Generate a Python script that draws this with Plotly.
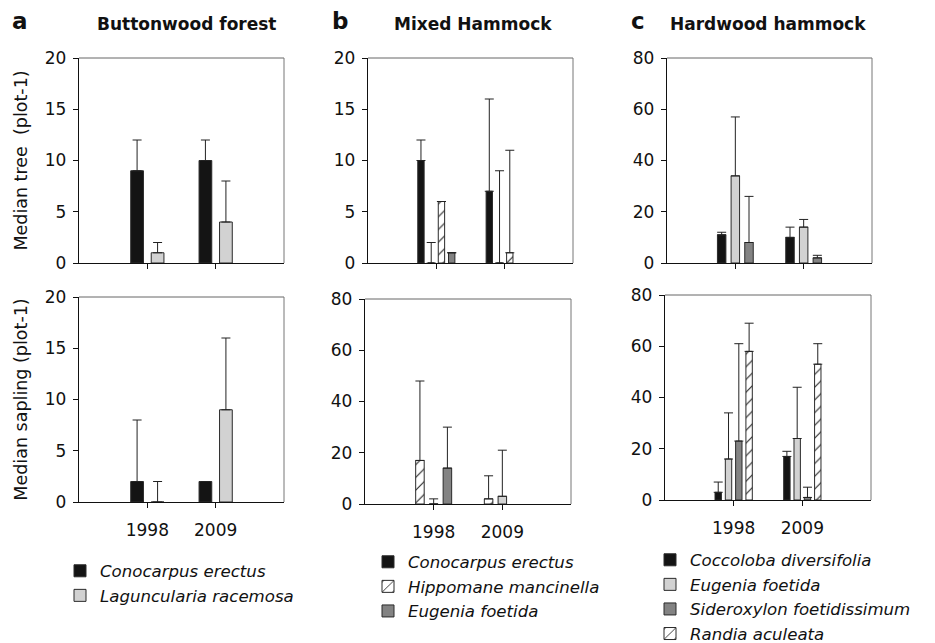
import plotly.graph_objects as go

W, H = 935, 700   # figure a little taller than the 643px window so legends never push margins
OFF = 8  # default page body margin shifts the figure by this many pixels
FONT = "DejaVu Sans"

years = ["1998", "2009"]

# ---- Panel a: Buttonwood forest ----
a_tree_cono = [9, 10]
a_tree_cono_up = [12, 12]
a_tree_lag = [1, 4]
a_tree_lag_up = [2, 8]
a_sap_cono = [2, 2]
a_sap_cono_up = [8, 2]
a_sap_lag = [0, 9]
a_sap_lag_up = [2, 16]

# ---- Panel b: Mixed Hammock ----
b_tree_cono = [10, 7]
b_tree_cono_up = [12, 16]
b_tree_lag = [0, 0]
b_tree_lag_up = [2, 9]
b_tree_hip = [6, 1]
b_tree_hip_up = [6, 11]
b_tree_eug = [1, None]
b_tree_eug_up = [1, None]
b_sap_hip = [17, 2]
b_sap_hip_up = [48, 11]
b_sap_lag = [0, 3]
b_sap_lag_up = [2, 21]
b_sap_eug = [14, None]
b_sap_eug_up = [30, None]

# ---- Panel c: Hardwood hammock ----
c_tree_coc = [11, 10]
c_tree_coc_up = [12, 14]
c_tree_eug = [34, 14]
c_tree_eug_up = [57, 17]
c_tree_sid = [8, 2]
c_tree_sid_up = [26, 3]
c_sap_coc = [3, 17]
c_sap_coc_up = [7, 19]
c_sap_eug = [16, 24]
c_sap_eug_up = [34, 44]
c_sap_sid = [23, 1]
c_sap_sid_up = [61, 5]
c_sap_ran = [58, 53]
c_sap_ran_up = [69, 61]


def fx(px):
    return (px - OFF) / W


def fy(py):
    return 1 - (py - OFF) / H


EDGE = "#2a2a2a"
STY = {
    "black": dict(color="#141414", line=dict(color=EDGE, width=1)),
    "light": dict(color="#d2d2d2", line=dict(color=EDGE, width=1)),
    "dark": dict(color="#838383", line=dict(color=EDGE, width=1)),
    "hatch": dict(color="white", line=dict(color=EDGE, width=1),
                  pattern=dict(shape="/", fgcolor="#222222", bgcolor="white",
                               size=9, solidity=0.12, fillmode="replace")),
}

fig = go.Figure()


def add(k, name, vals, ups, sty, legend, show):
    err = [None if v is None else u - v for u, v in zip(ups, vals)]
    sfx = "" if k == 1 else str(k)
    fig.add_trace(go.Bar(
        x=years, y=vals, name=name, xaxis="x" + sfx, yaxis="y" + sfx,
        marker=STY[sty], legend=legend, showlegend=show,
        error_y=dict(type="data", symmetric=False, array=err,
                     arrayminus=[0] * len(vals), color="#222222",
                     thickness=1, width=4.5),
        hoverinfo="skip",
    ))


# subplot 1: a tree, 2: b tree, 3: c tree, 4: a sapling, 5: b sapling, 6: c sapling
add(1, "Conocarpus erectus", a_tree_cono, a_tree_cono_up, "black", "legend", True)
add(1, "Laguncularia racemosa", a_tree_lag, a_tree_lag_up, "light", "legend", True)
add(4, "Conocarpus erectus", a_sap_cono, a_sap_cono_up, "black", "legend", False)
add(4, "Laguncularia racemosa", a_sap_lag, a_sap_lag_up, "light", "legend", False)

add(2, "Conocarpus erectus", b_tree_cono, b_tree_cono_up, "black", "legend2", True)
add(2, "Laguncularia racemosa", b_tree_lag, b_tree_lag_up, "light", "legend2", False)
add(2, "Hippomane mancinella", b_tree_hip, b_tree_hip_up, "hatch", "legend2", True)
add(2, "Eugenia foetida", b_tree_eug, b_tree_eug_up, "dark", "legend2", True)
add(5, "Hippomane mancinella", b_sap_hip, b_sap_hip_up, "hatch", "legend2", False)
add(5, "Laguncularia racemosa", b_sap_lag, b_sap_lag_up, "light", "legend2", False)
add(5, "Eugenia foetida", b_sap_eug, b_sap_eug_up, "dark", "legend2", False)

add(3, "Coccoloba diversifolia", c_tree_coc, c_tree_coc_up, "black", "legend3", True)
add(3, "Eugenia foetida", c_tree_eug, c_tree_eug_up, "light", "legend3", True)
add(3, "Sideroxylon foetidissimum", c_tree_sid, c_tree_sid_up, "dark", "legend3", True)
add(6, "Coccoloba diversifolia", c_sap_coc, c_sap_coc_up, "black", "legend3", False)
add(6, "Eugenia foetida", c_sap_eug, c_sap_eug_up, "light", "legend3", False)
add(6, "Sideroxylon foetidissimum", c_sap_sid, c_sap_sid_up, "dark", "legend3", False)
add(6, "Randia aculeata", c_sap_ran, c_sap_ran_up, "hatch", "legend3", True)

# on-screen pixel boxes (x0, x1, y0, y1) from top-left
BOX = {
    1: (79, 284, 58, 263),
    2: (368, 573, 58, 263),
    3: (667, 872, 58, 263),
    4: (79, 284, 297, 502),
    5: (365, 571, 299, 504),
    6: (665, 871, 295, 500),
}
YMAX = {1: 20, 2: 20, 3: 80, 4: 20, 5: 80, 6: 80}
YDT = {1: 5, 2: 5, 3: 20, 4: 5, 5: 20, 6: 20}

tickfont = dict(family=FONT, size=17, color="#111111")
layout = dict(
    width=W, height=H, margin=dict(l=0, r=0, t=0, b=0, autoexpand=False),
    paper_bgcolor="white", plot_bgcolor="white",
    barmode="group", bargap=0.4, bargroupgap=0.38,
    font=dict(family=FONT, color="#111111"),
    shapes=[], annotations=[],
)

for k, (x0, x1, y0, y1) in BOX.items():
    sfx = "" if k == 1 else str(k)
    layout["xaxis" + sfx] = dict(
        domain=[fx(x0), fx(x1)], anchor="y" + sfx, type="category",
        range=[-1, 2], showline=True, linecolor="#111111", linewidth=1.3,
        ticks="outside", ticklen=5, tickwidth=1, tickcolor="#111111",
        showticklabels=k >= 4, tickfont=tickfont, ticklabelstandoff=7,
        showgrid=False, zeroline=False, fixedrange=True, automargin=False,
    )
    layout["yaxis" + sfx] = dict(
        domain=[fy(y1), fy(y0)], anchor="x" + sfx,
        range=[0, YMAX[k]], dtick=YDT[k], tick0=0, showline=True,
        linecolor="#111111", linewidth=1.3, ticks="outside", ticklen=5,
        tickwidth=1, tickcolor="#111111", tickfont=tickfont,
        ticklabelstandoff=3, showgrid=False, zeroline=False, fixedrange=True,
        automargin=False,
    )
    xr = ("x" + sfx) + " domain"
    yr = ("y" + sfx) + " domain"
    layout["shapes"].append(dict(type="line", xref=xr, yref=yr, x0=0, x1=1, y0=1, y1=1,
                                 line=dict(color="#666666", width=1)))
    layout["shapes"].append(dict(type="line", xref=xr, yref=yr, x0=1, x1=1, y0=0, y1=1,
                                 line=dict(color="#777777", width=1)))

ytitle_font = dict(family=FONT, size=17.5, color="#111111")
layout["yaxis"]["title"] = dict(text="Median tree \u00a0(plot-1)", font=ytitle_font, standoff=12)
layout["yaxis4"]["title"] = dict(text="Median sapling (plot-1)", font=ytitle_font, standoff=12)

# panel letters and titles
for txt, xc in [("a", 19.5), ("b", 340), ("c", 637.5)]:
    layout["annotations"].append(dict(
        text="<b>%s</b>" % txt, x=fx(xc), y=fy(21), xref="paper", yref="paper",
        xanchor="center", yanchor="middle", showarrow=False,
        font=dict(family=FONT, size=23, color="#111111")))
for txt, xc in [("Buttonwood forest", 186), ("Mixed Hammock", 473), ("Hardwood hammock", 767.5)]:
    layout["annotations"].append(dict(
        text="<b>%s</b>" % txt, x=fx(xc), y=fy(24), xref="paper", yref="paper",
        xanchor="center", yanchor="middle", showarrow=False,
        font=dict(family=FONT, size=17, color="#111111")))

legfont = dict(family=FONT, size=16.6, color="#111111", style="italic")
# (text start x, first row centre y) on screen
for key, xt, yc in [("legend", 100, 571), ("legend2", 408, 562), ("legend3", 690, 560)]:
    layout[key] = dict(x=fx(xt - 40), y=fy(yc - 17.5), xanchor="left", yanchor="top",
                       xref="paper", yref="paper", font=legfont,
                       bgcolor="rgba(0,0,0,0)", traceorder="normal",
                       tracegroupgap=0, itemclick=False, itemdoubleclick=False)

fig.update_layout(**layout)
fig.write_html("out.html")
